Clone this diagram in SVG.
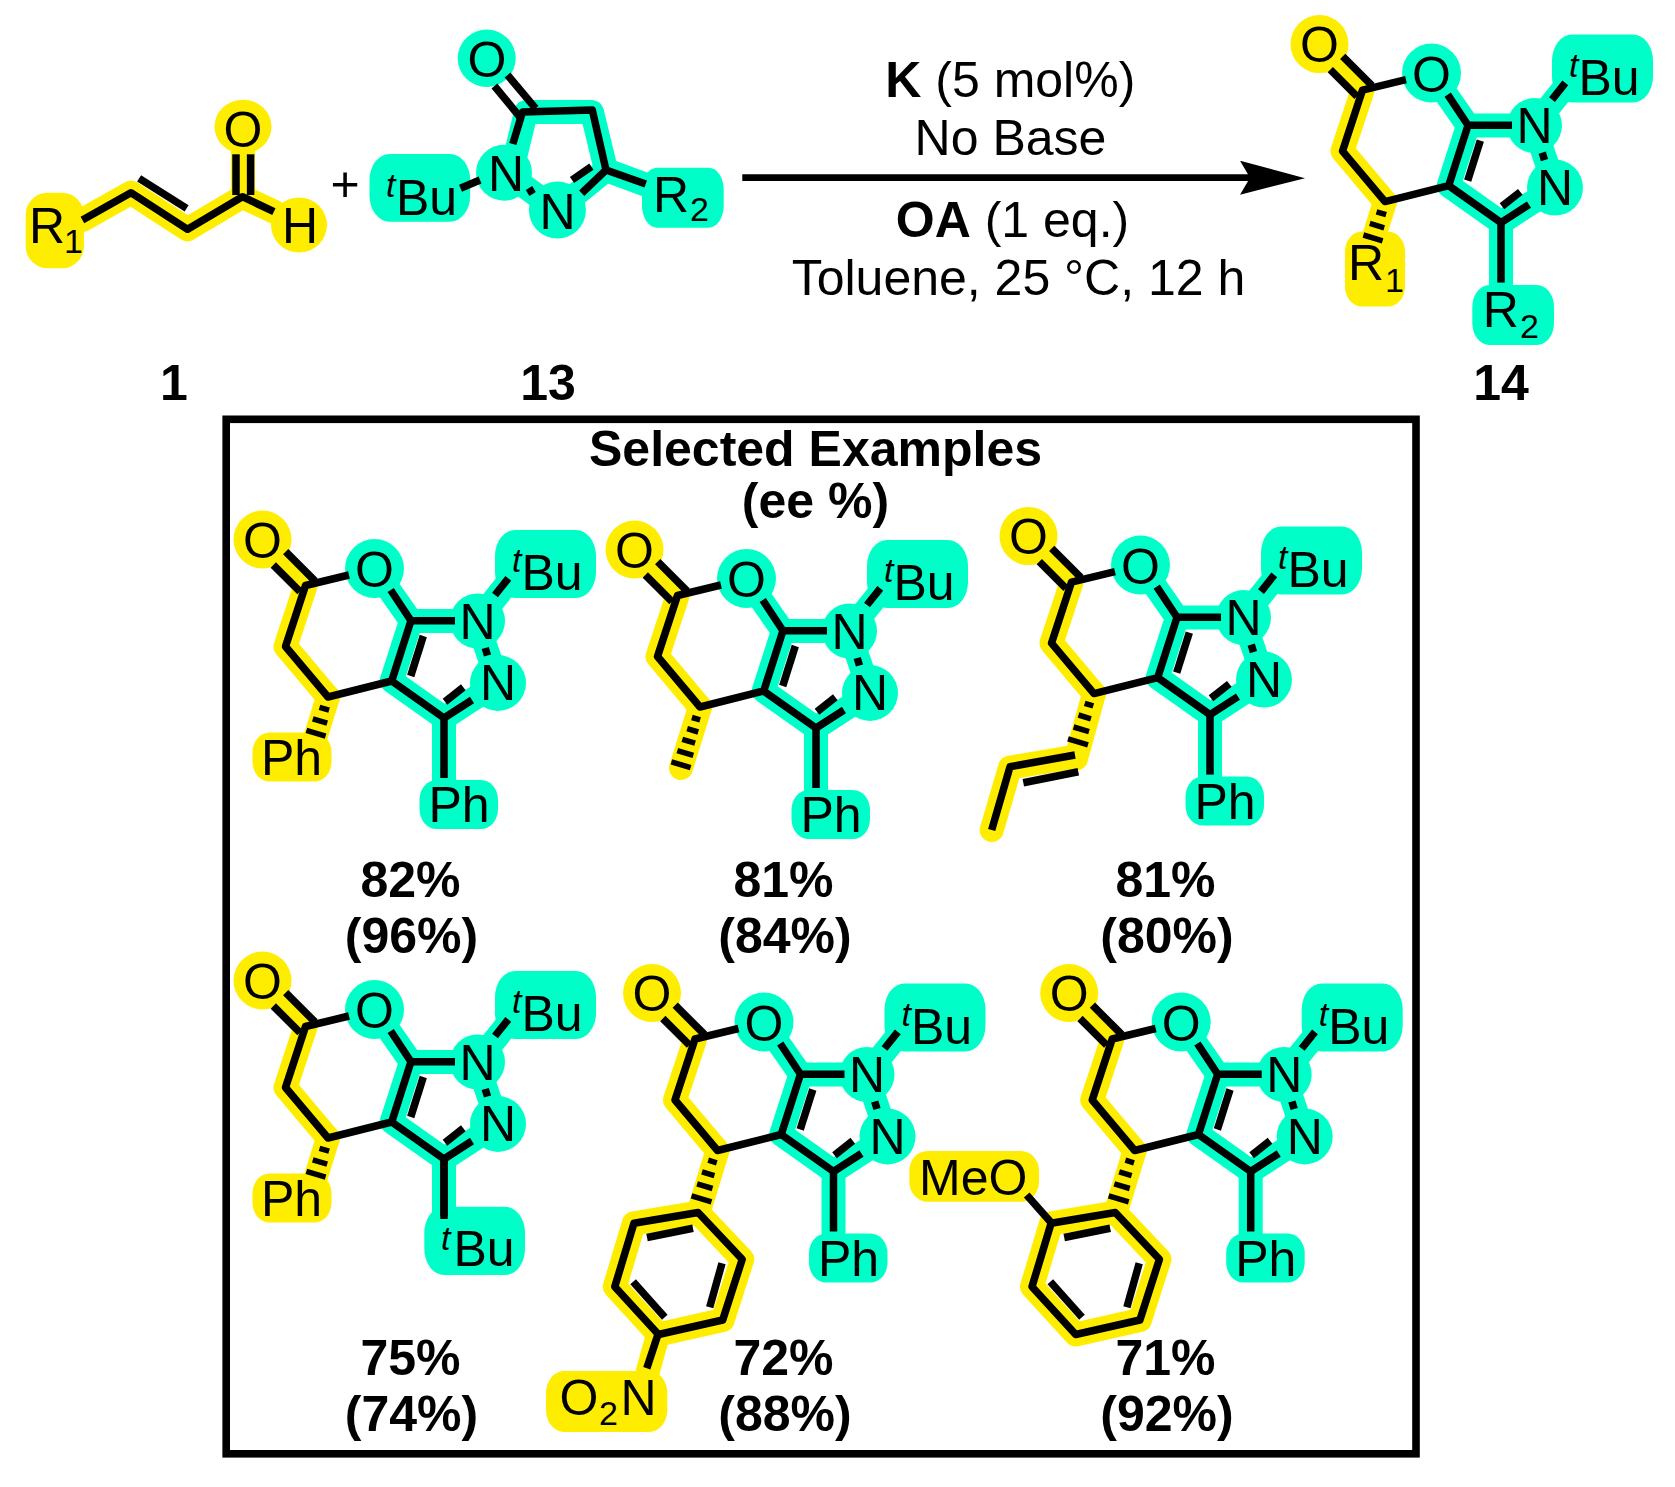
<svg xmlns="http://www.w3.org/2000/svg" width="1675" height="1487" viewBox="0 0 1675 1487">
<style>
.t{font-family:"Liberation Sans",Arial,sans-serif;font-size:50px;fill:#000}
.m{text-anchor:middle}
.b{font-weight:700}
.i{font-style:italic;font-size:34px}
.s{font-size:34px}
.k{fill:none;stroke:#000;stroke-width:7.5;stroke-linejoin:round}
.d{fill:none;stroke:#000;stroke-width:5.5}
.y{fill:none;stroke:#FFED00;stroke-width:24;stroke-linejoin:round;stroke-linecap:round}
.c{fill:none;stroke:#00FFC8;stroke-width:24;stroke-linejoin:round;stroke-linecap:round}
.yf{fill:#FFED00}
.cf{fill:#00FFC8}
</style>
<defs>
<marker id="head" viewBox="0 0 65 34" markerWidth="65" markerHeight="34" markerUnits="userSpaceOnUse" refX="10" refY="17" orient="auto"><path d="M0 0L65 17.5L0 34L10 17Z" fill="#000"/></marker>
<g id="hl">
<polyline class="y" points="262,539 305.5,586 285.5,646.5 328,697"/>
<circle class="yf" cx="262.5" cy="539.5" r="29"/>
<polyline class="c" points="374,568 411,621 477,621 510,580"/>
<polyline class="c" points="411,621 391.7,681 444,718 498,683 477,621"/>
<circle class="cf" cx="374.5" cy="568.5" r="29.5"/>
<circle class="cf" cx="477.5" cy="621" r="27.5"/>
<circle class="cf" cx="498" cy="683" r="28"/>
<rect class="cf" x="495" y="530" width="101" height="68" rx="20" ry="26"/>
<line class="c" x1="444" y1="718" x2="444" y2="785" style="stroke-linecap:butt"/>
</g>
<g id="bonds">
<polyline class="k" points="349,575 305.5,585.5 285.5,646.5 328,697 391.7,681 411,620.7 390.7,590"/>
<line class="k" x1="273.3" y1="565" x2="300" y2="591.7"/>
<line class="k" x1="285.7" y1="551.7" x2="315" y2="581"/>
<line class="k" x1="411" y1="620.7" x2="455" y2="620.7"/>
<polyline class="k" points="391.7,681 444,718 472,700"/>
<line class="k" x1="444" y1="718" x2="444" y2="778"/>
<line class="k" x1="423.3" y1="636" x2="410.7" y2="676"/>
<line class="k" x1="445" y1="701.7" x2="463.3" y2="687.3"/>
<line class="k" x1="485.2" y1="648" x2="487.5" y2="655.5"/>
<line class="k" x1="495" y1="595" x2="508.3" y2="578.3"/>
</g>
<g id="hash3">
<line class="d" x1="319.5" y1="707.3" x2="329.1" y2="710.1"/>
<line class="d" x1="312.8" y1="718.8" x2="327.2" y2="723.2"/>
<line class="d" x1="306.4" y1="730.4" x2="325.6" y2="736.2"/>
</g>
<g id="hash4">
<line class="d" x1="318.7" y1="706.7" x2="327.3" y2="709.3"/>
<line class="d" x1="312.5" y1="718.4" x2="324.9" y2="722.2"/>
<line class="d" x1="307.6" y1="730.4" x2="323" y2="735"/>
<line class="d" x1="302" y1="742.3" x2="322" y2="748.3"/>
</g>
<g id="hash5">
<line class="d" x1="319.9" y1="707.5" x2="328.1" y2="709.9"/>
<line class="d" x1="315.2" y1="718.6" x2="326.2" y2="722"/>
<line class="d" x1="310.3" y1="729.4" x2="323.1" y2="733.2"/>
<line class="d" x1="305.3" y1="740.6" x2="321.3" y2="745.4"/>
<line class="d" x1="299.4" y1="751.8" x2="318.6" y2="757.6"/>
</g>
<g id="phC"><rect class="cf" x="419.5" y="780" width="78.5" height="49" rx="17" ry="20"/></g>
<g id="phY"><rect class="yf" x="252.5" y="732.5" width="79" height="49" rx="17" ry="20"/><line class="y" x1="328" y1="697" x2="313" y2="745"/></g>
<polygon id="aryl" points="308.6,759 352.7,805.8 333.2,866.5 269,881 225.3,833.2 244.4,769.8"/>
<g id="inner">
<line class="k" x1="257.5" y1="784" x2="303.5" y2="774.8"/>
<line class="k" x1="332.5" y1="809.8" x2="320.2" y2="853.7"/>
<line class="k" x1="243.6" y1="828.2" x2="275.3" y2="863.8"/>
</g>
</defs>
<rect width="1675" height="1487" fill="#fff"/>

<g id="connectors">
<line x1="742.3" y1="177.7" x2="1250" y2="177.7" stroke="#000" stroke-width="6.8" marker-end="url(#head)"/>
</g>

<g id="compound-1">
<polyline class="y" points="82.4,220 130.9,192.7 187.6,229.3 242.4,196.7 273.9,211.7"/>
<line class="y" x1="243" y1="196" x2="243" y2="130"/>
<rect class="yf" x="25.7" y="192.7" width="58.2" height="75.6" rx="22" ry="22"/>
<ellipse class="yf" cx="243" cy="126.7" rx="28.5" ry="27"/>
<ellipse class="yf" cx="299" cy="225" rx="28" ry="27.5"/>
<polyline class="k" points="82.4,220 130.9,192.7 187.6,229.3 242.4,196.7 273.9,211.7"/>
<line class="k" x1="139.1" y1="178.3" x2="186.6" y2="208.3"/>
<line class="k" x1="236" y1="154.3" x2="236" y2="195"/>
<line class="k" x1="250.6" y1="154.3" x2="250.6" y2="195"/>
<text class="t" x="29" y="243.3">R<tspan class="s" x="64" y="253.3">1</tspan></text>
<text class="t m" x="243" y="147.3">O</text>
<text class="t m" x="300" y="243.3">H</text>
</g>
<text class="t m" x="345" y="200.5">+</text>

<g id="compound-13">
<polyline class="c" points="512,170 526,112 592,112 606,170 557,210"/>
<line class="c" x1="606" y1="170" x2="660" y2="190"/>
<line class="c" x1="506" y1="173" x2="557" y2="210"/>
<ellipse class="cf" cx="486.7" cy="58.3" rx="29" ry="28.7"/>
<circle class="cf" cx="504" cy="172.7" r="28"/>
<circle class="cf" cx="557.4" cy="210" r="28.5"/>
<rect class="cf" x="369.5" y="154" width="100.7" height="67.7" rx="20" ry="26"/>
<rect class="cf" x="642" y="167.7" width="81.7" height="60" rx="15" ry="22"/>
<polyline class="k" points="512.8,144 522.5,112 592.3,110 606,170 581.7,193.3"/>
<line class="k" x1="494.4" y1="86" x2="521" y2="118.3"/>
<line class="k" x1="507.5" y1="75" x2="535.6" y2="108.3"/>
<line class="k" x1="591.4" y1="166.7" x2="572" y2="180"/>
<line class="k" x1="606" y1="170" x2="645.7" y2="184"/>
<line class="k" x1="460.5" y1="188.3" x2="480" y2="180"/>
<line class="k" x1="529" y1="188" x2="532.6" y2="194"/>
<text class="t m" x="487" y="77">O</text>
<text class="t m" x="506" y="190.7">N</text>
<text class="t m" x="557.5" y="229">N</text>
<text class="t" x="396" y="215"><tspan class="i" x="386" y="197">t</tspan><tspan x="396" y="215">Bu</tspan></text>
<text class="t" x="653" y="211.7">R<tspan class="s" x="690" y="221">2</tspan></text>
</g>

<g id="conditions">
<text class="t m" x="1010.3" y="97.3"><tspan class="b">K</tspan> (5 mol%)</text>
<text class="t m" x="1010.5" y="155">No Base</text>
<text class="t m" x="1012.5" y="236.7"><tspan class="b">OA</tspan> (1 eq.)</text>
<text class="t m" x="1018.5" y="295">Toluene, 25 °C, 12 h</text>
</g>

<g id="compound-14" transform="translate(1057,-495.4)">
<use href="#hl"/>
<line class="y" x1="328" y1="697" x2="313" y2="745"/>
<rect class="yf" x="288" y="727" width="60" height="75" rx="17" ry="20"/>
<rect class="cf" x="415.3" y="780.4" width="81.7" height="60" rx="17" ry="22"/>
<use href="#bonds"/><use href="#hash3"/>
<text class="t m" x="262.5" y="557.5">O</text>
<text class="t m" x="374.5" y="587">O</text>
<text class="t m" x="477.5" y="638.5">N</text>
<text class="t m" x="498" y="700">N</text>
<text class="t" x="521.5" y="590"><tspan class="i" x="512" y="572">t</tspan><tspan x="521.5" y="590">Bu</tspan></text>
<text class="t" x="291" y="775.4">R<tspan class="s" x="328" y="787">1</tspan></text>
<text class="t" x="425.7" y="822">R<tspan class="s" x="463" y="833.7">2</tspan></text>
</g>

<g id="labels">
<text class="t m b" x="174" y="399.5">1</text>
<text class="t m b" x="548" y="399.5">13</text>
<text class="t m b" x="1501" y="399.5">14</text>
</g>

<g id="examples-box">
<rect x="226.2" y="419.3" width="1189.8" height="1034.5" fill="none" stroke="#000" stroke-width="7.6"/>
<text class="t m b" x="815.5" y="466">Selected Examples</text>
<text class="t m b" x="815.5" y="518">(ee %)</text>
</g>

<g id="example-1">
<use href="#hl"/><use href="#phC"/><use href="#phY"/>
<use href="#bonds"/><use href="#hash3"/>
<text class="t m" x="262.5" y="557.5">O</text>
<text class="t m" x="374.5" y="587">O</text>
<text class="t m" x="477.5" y="638.5">N</text>
<text class="t m" x="498" y="700">N</text>
<text class="t" x="521.5" y="590"><tspan class="i" x="512" y="572">t</tspan><tspan x="521.5" y="590">Bu</tspan></text>
<text class="t" x="261" y="775">Ph</text>
<text class="t" x="428.5" y="822">Ph</text>
</g>

<g id="example-2" transform="translate(372,10)">
<use href="#hl"/><use href="#phC"/>
<line class="y" x1="328" y1="697" x2="309" y2="758"/>
<use href="#bonds"/><use href="#hash5"/>
<text class="t m" x="262.5" y="557.5">O</text>
<text class="t m" x="374.5" y="587">O</text>
<text class="t m" x="477.5" y="638.5">N</text>
<text class="t m" x="498" y="700">N</text>
<text class="t" x="521.5" y="590"><tspan class="i" x="512" y="572">t</tspan><tspan x="521.5" y="590">Bu</tspan></text>
<text class="t" x="428.5" y="822">Ph</text>
</g>

<g id="example-3" transform="translate(766,-3.4)">
<use href="#hl"/><use href="#phC"/>
<line class="y" x1="328" y1="697" x2="310" y2="762"/>
<polyline class="y" points="309,760 244,771 225.7,833.4"/>
<use href="#bonds"/><use href="#hash4"/>
<polyline class="k" points="309,758.4 244,770.1 225.7,833.4"/>
<line class="k" x1="312.3" y1="775.1" x2="257.3" y2="786.1"/>
<text class="t m" x="262.5" y="557.5">O</text>
<text class="t m" x="374.5" y="587">O</text>
<text class="t m" x="477.5" y="638.5">N</text>
<text class="t m" x="498" y="700">N</text>
<text class="t" x="521.5" y="590"><tspan class="i" x="512" y="572">t</tspan><tspan x="521.5" y="590">Bu</tspan></text>
<text class="t" x="428.5" y="822">Ph</text>
</g>

<g id="example-4" transform="translate(0,441)">
<use href="#hl"/><use href="#phY"/>
<rect class="cf" x="424.3" y="765.7" width="100.7" height="68.3" rx="20" ry="26"/>
<use href="#bonds"/><use href="#hash3"/>
<line class="k" x1="444" y1="718" x2="444" y2="775"/>
<text class="t m" x="262.5" y="557.5">O</text>
<text class="t m" x="374.5" y="587">O</text>
<text class="t m" x="477.5" y="638.5">N</text>
<text class="t m" x="498" y="700">N</text>
<text class="t" x="521.5" y="590"><tspan class="i" x="512" y="572">t</tspan><tspan x="521.5" y="590">Bu</tspan></text>
<text class="t" x="261" y="775">Ph</text>
<text class="t" x="453.5" y="825"><tspan class="i" x="441" y="809">t</tspan><tspan x="453.5" y="825">Bu</tspan></text>
</g>

<g id="example-5" transform="translate(389.5,453.5)">
<use href="#hl"/><use href="#phC"/>
<line class="y" x1="328" y1="697" x2="309" y2="759"/>
<use href="#aryl" class="y"/>
<line class="y" x1="268.8" y1="880" x2="255" y2="930"/>
<rect class="yf" x="156.5" y="917.5" width="121.3" height="61" rx="18" ry="22"/>
<use href="#bonds"/><use href="#hash4"/>
<use href="#aryl" class="k"/><use href="#inner"/>
<line class="k" x1="268.8" y1="880" x2="257.3" y2="914.8"/>
<text class="t m" x="262.5" y="557.5">O</text>
<text class="t m" x="374.5" y="587">O</text>
<text class="t m" x="477.5" y="638.5">N</text>
<text class="t m" x="498" y="700">N</text>
<text class="t" x="521.5" y="590"><tspan class="i" x="512" y="572">t</tspan><tspan x="521.5" y="590">Bu</tspan></text>
<text class="t" x="428.5" y="822">Ph</text>
<text class="t" x="169.9" y="961.5">O<tspan class="s" x="209.4" y="971.5">2</tspan><tspan x="231" y="961.5">N</tspan></text>
</g>

<g id="example-6" transform="translate(806.7,453.5)">
<use href="#hl"/><use href="#phC"/>
<line class="y" x1="328" y1="697" x2="309" y2="759"/>
<use href="#aryl" class="y"/>
<rect class="yf" x="102.6" y="697.5" width="129.7" height="50.7" rx="18" ry="20"/>
<use href="#bonds"/><use href="#hash4"/>
<use href="#aryl" class="k"/><use href="#inner"/>
<line class="k" x1="220" y1="741.5" x2="245" y2="769.8"/>
<text class="t m" x="262.5" y="557.5">O</text>
<text class="t m" x="374.5" y="587">O</text>
<text class="t m" x="477.5" y="638.5">N</text>
<text class="t m" x="498" y="700">N</text>
<text class="t" x="521.5" y="590"><tspan class="i" x="512" y="572">t</tspan><tspan x="521.5" y="590">Bu</tspan></text>
<text class="t" x="428.5" y="822">Ph</text>
<text class="t" x="112.3" y="741">MeO</text>
</g>

<g id="yields">
<text class="t m b" x="410.5" y="896.5">82%</text>
<text class="t m b" x="411.5" y="953">(96%)</text>
<text class="t m b" x="783.5" y="896.5">81%</text>
<text class="t m b" x="785" y="953">(84%)</text>
<text class="t m b" x="1165.5" y="896.5">81%</text>
<text class="t m b" x="1167" y="953">(80%)</text>
<text class="t m b" x="410.5" y="1374.5">75%</text>
<text class="t m b" x="411.5" y="1431">(74%)</text>
<text class="t m b" x="783.5" y="1374.5">72%</text>
<text class="t m b" x="785" y="1431">(88%)</text>
<text class="t m b" x="1165.5" y="1374.5">71%</text>
<text class="t m b" x="1167" y="1431">(92%)</text>
</g>
</svg>
